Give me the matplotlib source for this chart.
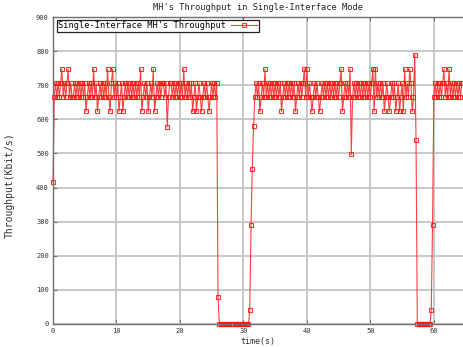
import numpy as np
import matplotlib
matplotlib.use('Agg')
import matplotlib.pyplot as plt

# sampling interval of the throughput trace (s)
sample_interval = 0.2

# MH throughput (Kbit/s), one value per sample, rows of 2 s
throughput = [
    415, 665, 706, 665, 706, 665, 706, 747, 665, 706,   # 0.0 - 1.8
    665, 706, 747, 665, 706, 665, 665, 706, 665, 706,   # 2.0
    665, 706, 665, 706, 665, 706, 623, 665, 706, 665,   # 4.0
    706, 665, 747, 665, 706, 623, 665, 706, 665, 706,   # 6.0
    665, 706, 665, 747, 665, 623, 706, 747, 665, 706,   # 8.0
    665, 706, 623, 665, 706, 623, 665, 706, 665, 706,   # 10.0
    665, 706, 665, 706, 665, 706, 665, 706, 665, 747,   # 12.0
    623, 665, 706, 665, 706, 623, 665, 706, 665, 747,   # 14.0
    623, 665, 706, 665, 706, 665, 706, 706, 665, 706,   # 16.0
    578, 665, 706, 706, 665, 706, 665, 706, 665, 706,   # 18.0
    665, 706, 665, 747, 665, 706, 665, 706, 665, 706,   # 20.0
    623, 665, 706, 623, 665, 706, 665, 623, 665, 706,   # 22.0
    665, 706, 665, 623, 665, 706, 665, 706, 665, 706,   # 24.0
    80, 0, 0, 0, 0, 0, 0, 0, 0, 0,                      # 26.0
    0, 0, 0, 0, 0, 0, 0, 0, 0, 0,                       # 28.0
    0, 0, 0, 0, 0, 40, 290, 455, 580, 665,              # 30.0
    706, 665, 706, 623, 665, 706, 665, 747, 665, 706,   # 32.0
    665, 706, 665, 706, 665, 706, 665, 706, 665, 706,   # 34.0
    623, 665, 706, 665, 706, 665, 706, 665, 706, 665,   # 36.0
    706, 623, 665, 706, 665, 706, 665, 706, 747, 665,   # 38.0
    747, 665, 706, 665, 623, 665, 706, 665, 706, 665,   # 40.0
    623, 665, 706, 665, 706, 665, 706, 665, 706, 665,   # 42.0
    706, 665, 706, 665, 706, 665, 706, 747, 623, 665,   # 44.0
    706, 665, 706, 665, 747, 497, 665, 706, 665, 706,   # 46.0
    665, 706, 665, 706, 665, 706, 665, 706, 665, 706,   # 48.0
    665, 706, 747, 623, 747, 665, 706, 665, 706, 665,   # 50.0
    706, 623, 665, 706, 665, 623, 665, 706, 665, 706,   # 52.0
    623, 665, 706, 623, 665, 706, 623, 747, 665, 706,   # 54.0
    665, 747, 706, 623, 665, 790, 540, 0, 0, 0,         # 56.0
    0, 0, 0, 0, 0, 0, 0, 0, 40, 290,                    # 58.0
    665, 706, 665, 706, 665, 706, 665, 706, 747, 665,   # 60.0
    706, 665, 747, 665, 706, 665, 706, 665, 706, 665,   # 62.0
    706, 665, 706,                                      # 64.0
]
time = np.arange(len(throughput)) * sample_interval

x_ticks = [0, 10, 20, 30, 40, 50, 60]
y_ticks = [0, 100, 200, 300, 400, 500, 600, 700, 800, 900]

W, H = 463, 347
fig = plt.figure(figsize=(W / 100, H / 100), dpi=100)
ax = fig.add_axes([53 / W, 23 / H, 410 / W, 307 / H])

mono = 'DejaVu Sans Mono'
ax.plot(time, throughput, color='#ff2020', lw=0.8, alpha=0.85,
        marker='s', markersize=3.5, markerfacecolor='none',
        markeredgecolor='#ff1010', markeredgewidth=0.8, clip_on=False,
        label="Single-Interface MH's Throughput")

ax.set_xlim(0, 64.6)
ax.set_ylim(0, 900)
ax.set_xticks(x_ticks)
ax.set_yticks(y_ticks)
ax.grid(True, color='#c4c4c4', lw=1.3)
ax.set_axisbelow(True)

for s in ['left', 'bottom', 'top']:
    ax.spines[s].set_color('#707070')
    ax.spines[s].set_linewidth(1.0)
ax.spines['right'].set_visible(False)

ax.tick_params(direction='in', top=True, right=False, length=3,
               color='#707070', labelsize=5, pad=3, labelcolor='#333333')
for lab in ax.get_xticklabels() + ax.get_yticklabels():
    lab.set_family(mono)

ax.set_title("MH's Throughput in Single-Interface Mode", fontsize=6.2,
             family=mono, color='#222222', pad=5)
ax.set_xlabel('time(s)', fontsize=6, family=mono, color='#333333', labelpad=2)
ax.set_ylabel('Throughput(Kbit/s)', fontsize=7, family=mono, color='#333333')
ax.yaxis.set_label_coords((15 - 53) / 410, (324 - 185) / 307)

leg = ax.legend(loc='upper left', bbox_to_anchor=(4 / 410, 1 - 3 / 307),
                borderaxespad=0, fancybox=False, framealpha=1,
                edgecolor='#222222', markerfirst=False, handlelength=3,
                handletextpad=0.6, borderpad=0.15,
                prop={'family': mono, 'size': 6.2})
leg.get_frame().set_linewidth(0.9)

fig.savefig('out.png', dpi=100)
